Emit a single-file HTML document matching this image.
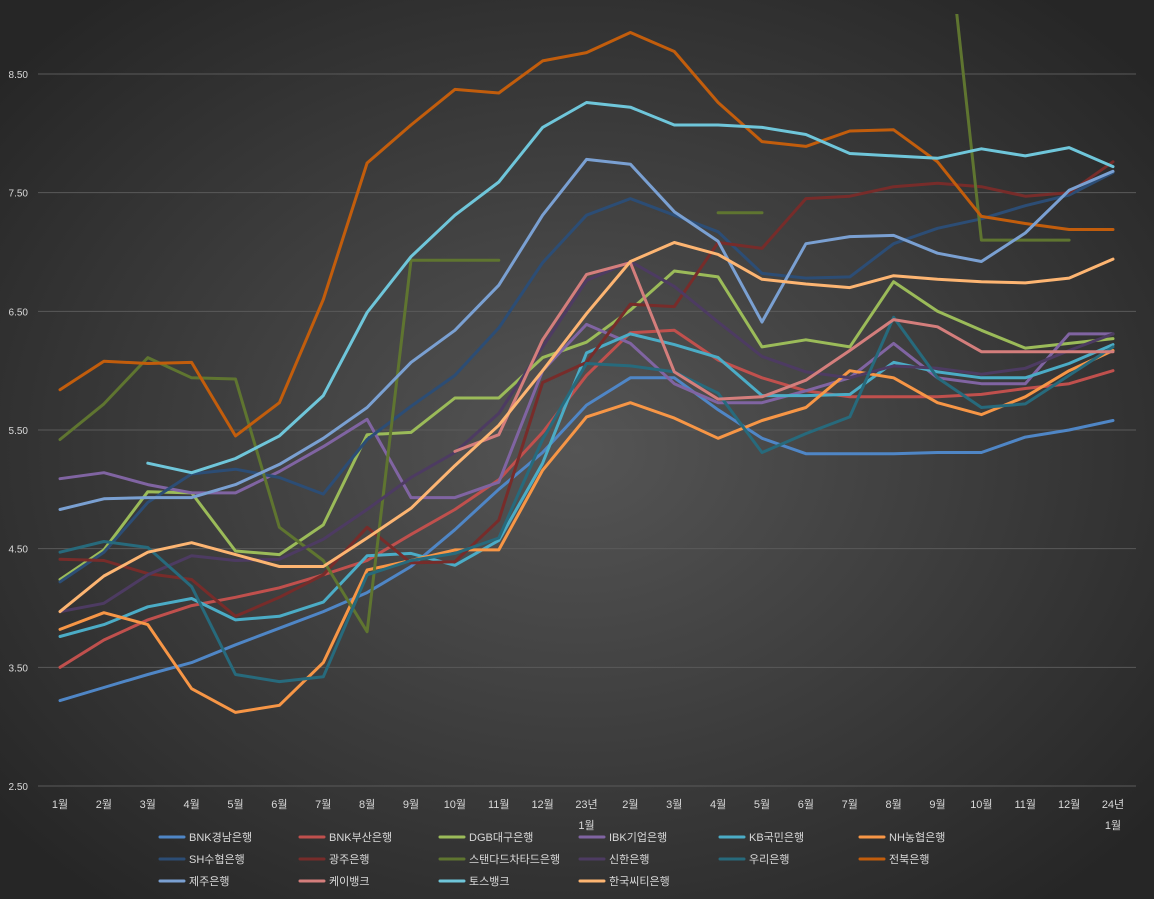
<!DOCTYPE html>
<html><head><meta charset="utf-8">
<style>
html,body{margin:0;padding:0;background:#262626;}
svg{display:block;font-family:"Liberation Sans","Noto Sans CJK KR",sans-serif;}
</style></head>
<body>
<svg id="chart" width="1154" height="899" viewBox="0 0 1154 899" xmlns="http://www.w3.org/2000/svg">
<defs>
<radialGradient id="bg" cx="50%" cy="50%" r="65%">
<stop offset="0" stop-color="#555555"/>
<stop offset="1" stop-color="#262626"/>
</radialGradient>
<clipPath id="plotclip"><rect x="38" y="14" width="1100" height="780"/></clipPath>
</defs>
<rect x="0" y="0" width="1154" height="899" fill="url(#bg)"/>
<g id="grid"></g>
<g id="yaxis"></g>
<g id="xaxis"></g>
<g id="series" clip-path="url(#plotclip)"></g>
<g id="legend"></g>
</svg>
<script>
const categories = ["1월","2월","3월","4월","5월","6월","7월","8월","9월","10월","11월","12월","23년|1월","2월","3월","4월","5월","6월","7월","8월","9월","10월","11월","12월","24년|1월"];
const yTicks = [2.5,3.5,4.5,5.5,6.5,7.5,8.5];
const yTickLabels = ["2.50","3.50","4.50","5.50","6.50","7.50","8.50"];
const seriesNames = ["BNK경남은행","BNK부산은행","DGB대구은행","IBK기업은행","KB국민은행","NH농협은행","SH수협은행","광주은행","스탠다드차타드은행","신한은행","우리은행","전북은행","제주은행","케이뱅크","토스뱅크","한국씨티은행"];
const seriesColors = ["#4f86c6","#c0504d","#9bbb59","#8064a2","#4bacc6","#f79646","#2c4d75","#772c2a","#5f7530","#4d3b62","#276a7c","#c25d0c","#7aa0d2","#d47e7c","#6fc6da","#fdb572"];
const sBNKgn = [3.22,3.33,3.44,3.54,3.69,3.83,3.97,4.13,4.35,4.66,5.0,5.31,5.71,5.94,5.94,5.67,5.43,5.30,5.30,5.30,5.31,5.31,5.44,5.50,5.58];
const sBNKbs = [3.50,3.73,3.90,4.02,4.09,4.17,4.28,4.40,4.62,4.83,5.08,5.48,5.96,6.32,6.34,6.09,5.94,5.83,5.78,5.78,5.78,5.80,5.85,5.89,6.0];
const sDGB = [4.24,4.49,4.98,4.97,4.48,4.45,4.70,5.46,5.48,5.77,5.77,6.11,6.24,6.51,6.84,6.79,6.20,6.26,6.20,6.75,6.50,6.34,6.19,6.23,6.27];
const sIBK = [5.09,5.14,5.04,4.97,4.97,5.15,5.36,5.59,4.93,4.93,5.06,6.0,6.39,6.23,5.89,5.73,5.73,5.83,5.94,6.23,5.94,5.89,5.89,6.31,6.31];
const sKB = [3.76,3.86,4.01,4.08,3.90,3.93,4.05,4.44,4.46,4.36,4.57,5.22,6.15,6.31,6.22,6.11,5.79,5.79,5.80,6.07,5.99,5.94,5.94,6.06,6.22];
const sNH = [3.82,3.96,3.86,3.32,3.12,3.18,3.54,4.32,4.40,4.49,4.49,5.16,5.61,5.73,5.60,5.43,5.58,5.69,6.0,5.94,5.73,5.63,5.78,6.0,6.17];
const sSH = [4.22,4.47,4.89,5.13,5.17,5.10,4.96,5.42,5.70,5.96,6.36,6.91,7.31,7.45,7.31,7.17,6.82,6.78,6.79,7.07,7.20,7.28,7.39,7.48,7.67];
const sGJ = [4.41,4.40,4.29,4.24,3.93,4.09,4.28,4.68,4.38,4.39,4.74,5.90,6.07,6.56,6.54,7.08,7.03,7.45,7.47,7.55,7.58,7.55,7.47,7.50,7.76];
const sSC = [5.42,5.72,6.11,5.94,5.93,4.68,4.40,3.80,6.93,6.93,6.93,null,null,null,null,7.33,7.33,null,null,null,10.5,7.10,7.10,7.10,null];
const sSH2 = [3.97,4.04,4.28,4.44,4.40,4.41,4.58,4.83,5.10,5.31,5.64,6.20,6.76,6.92,6.71,6.41,6.12,5.99,5.94,6.04,6.02,5.97,6.02,6.17,6.31];
const sWR = [4.47,4.56,4.51,4.18,3.44,3.38,3.42,4.28,4.40,4.46,4.59,5.42,6.06,6.04,5.99,5.81,5.31,5.47,5.61,6.45,5.94,5.69,5.72,5.96,6.20];
const sJB = [5.84,6.08,6.06,6.07,5.45,5.73,6.60,7.75,8.07,8.37,8.34,8.61,8.68,8.85,8.69,8.26,7.93,7.89,8.02,8.03,7.76,7.30,7.24,7.19,7.19];
const sJJ = [4.83,4.92,4.93,4.93,5.04,5.21,5.43,5.69,6.07,6.34,6.72,7.31,7.78,7.74,7.34,7.09,6.41,7.07,7.13,7.14,6.99,6.92,7.16,7.52,7.68];
const sKBank = [null,null,null,null,null,null,null,null,null,5.32,5.46,6.26,6.81,6.91,5.99,5.76,5.78,5.92,6.17,6.43,6.37,6.16,6.16,6.16,6.16];
const sToss = [null,null,5.22,5.14,5.26,5.45,5.79,6.49,6.96,7.31,7.59,8.05,8.26,8.22,8.07,8.07,8.05,7.99,7.83,7.81,7.79,7.87,7.81,7.88,7.72];
const sCiti = [3.97,4.27,4.47,4.55,4.45,4.35,4.35,4.59,4.84,5.20,5.54,6.0,6.48,6.92,7.08,6.98,6.77,6.73,6.70,6.80,6.77,6.75,6.74,6.78,6.94];
const allSeries = [sBNKgn,sBNKbs,sDGB,sIBK,sKB,sNH,sSH,sGJ,sSC,sSH2,sWR,sJB,sJJ,sKBank,sToss,sCiti];
const seriesKeys = ["bnk-gyeongnam","bnk-busan","dgb-daegu","ibk","kb-kookmin","nh-nonghyup","sh-suhyup","gwangju","standard-chartered","shinhan","woori","jeonbuk","jeju","kbank","toss-bank","citi"];

const NS="http://www.w3.org/2000/svg";
const X0=60, X1=1113, YV0=2.5, YV1=8.5, YP0=786, YP1=74;
function xPos(i){return X0+(X1-X0)*i/(categories.length-1);}
function yPos(v){return YP0+(v-YV0)*(YP1-YP0)/(YV1-YV0);}
function mk(tag,attrs,parent){const e=document.createElementNS(NS,tag);for(const k in attrs)e.setAttribute(k,attrs[k]);parent.appendChild(e);return e;}

const grid=document.getElementById('grid'), ya=document.getElementById('yaxis'), xa=document.getElementById('xaxis');
yTicks.forEach((t,i)=>{
  const l=mk('line',{x1:38,x2:1136,y1:yPos(t),y2:yPos(t),stroke:'#5a5a5a','stroke-width':1},grid);
  
  
  const tx=mk('text',{x:28,y:yPos(t)+4,'text-anchor':'end','font-size':10,fill:'#d9d9d9'},ya);
  tx.textContent=yTickLabels[i];
  
  
});
categories.forEach((c,i)=>{
  const parts=c.split('|');
  const tx=mk('text',{x:xPos(i),y:808,'text-anchor':'middle','font-size':11,fill:'#d9d9d9'},xa);
  tx.textContent=parts[0];
  
  
  if(parts[1]){
    const t2=mk('text',{x:xPos(i),y:829,'text-anchor':'middle','font-size':11,fill:'#d9d9d9'},xa);
    t2.textContent=parts[1];
    
    
  }
});
const sg=document.getElementById('series');
allSeries.forEach((arr,si)=>{
  let d='',pen=false;
  arr.forEach((v,i)=>{
    if(v===null){pen=false;return;}
    d+=(pen?'L':'M')+xPos(i).toFixed(1)+' '+yPos(v).toFixed(1)+' ';
    pen=true;
  });
  const p=mk('path',{d:d,fill:'none',stroke:seriesColors[si],'stroke-width':3,'stroke-linejoin':'round','stroke-linecap':'round'},sg);
  
  
});
const lg=document.getElementById('legend');
seriesNames.forEach((n,i)=>{
  const col=i%6,row=Math.floor(i/6);
  const lx=160+col*140, ly=837+row*22;
  const g=mk('g',{},lg);
  
  
  mk('line',{x1:lx,x2:lx+24,y1:ly,y2:ly,stroke:seriesColors[i],'stroke-width':3,'stroke-linecap':'round'},g);
  const t=mk('text',{x:lx+29,y:ly+4,'font-size':11,fill:'#d9d9d9'},g);
  t.textContent=n;
});
</script>
</body></html>
